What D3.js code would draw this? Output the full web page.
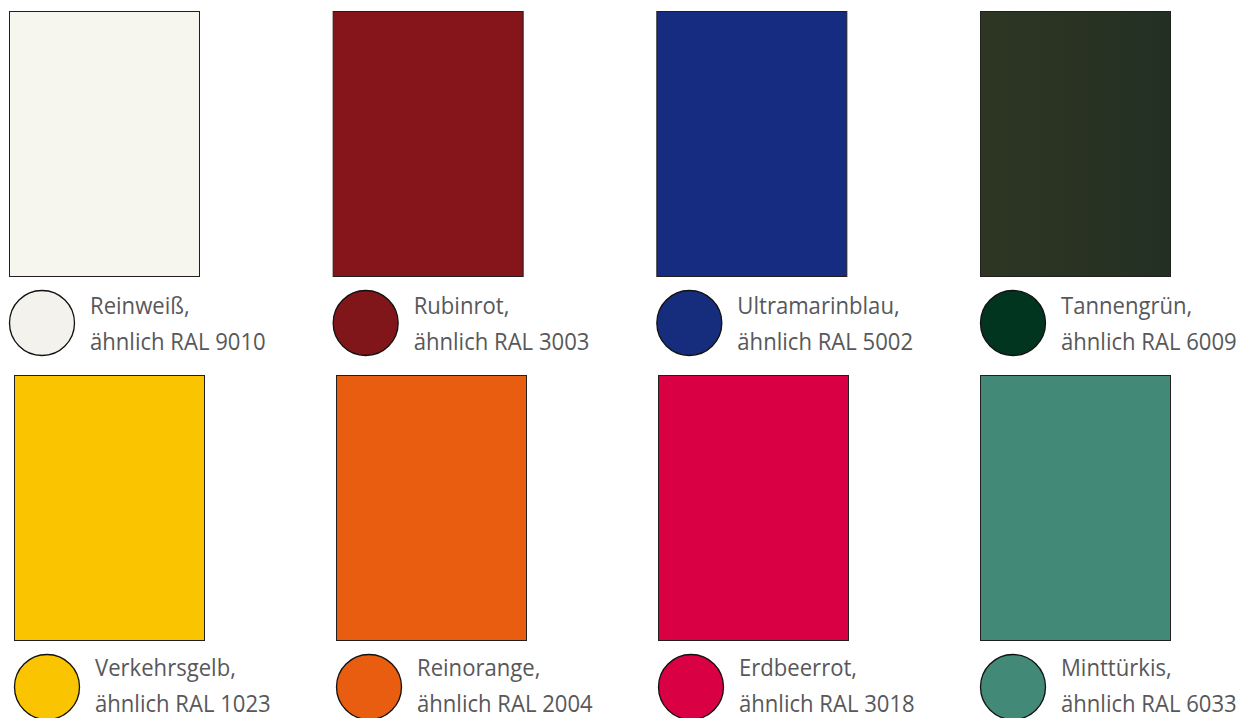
<!DOCTYPE html>
<html lang="de">
	<head>
		<meta charset="utf-8">
		<title>Farbtöne</title>
		<script src="https://d3js.org/d3.v7.min.js"></script>
		<style>
			body { margin: 0; background: #fff; }
			.label { font-family: "Open Sans", sans-serif; font-size: 23.5px; fill: #58585a; }
		</style>
	</head>
	<body>
		<script type="text/javascript">

			// Farbtöne (Name, RAL-Nummer, Farbe der Tafel, Farbe des Punkts)
			var names = ["Reinweiß", "Rubinrot", "Ultramarinblau", "Tannengrün",
			             "Verkehrsgelb", "Reinorange", "Erdbeerrot", "Minttürkis"];
			var ralCodes = ["9010", "3003", "5002", "6009", "1023", "2004", "3018", "6033"];
			var panelColors = ["#f6f5ee", "#86151b", "#162c80", "#2a3325",
			                   "#fbc400", "#e85d10", "#da0044", "#438978"];
			var dotColors = ["#f3f2ec", "#80161a", "#162d7e", "#02351f",
			                 "#fbc400", "#e85d10", "#da0044", "#438978"];

			var w = 1239;
			var h = 718;
			var cols = 4;

			var svg = d3.select("body").append("svg").attr("width", w).attr("height", h);

			// grid scales (one per row, the rows are slightly shifted)
			var xScales = [
				d3.scaleLinear().domain([0, cols - 1]).range([9, 980]),
				d3.scaleLinear().domain([0, cols - 1]).range([14, 980])
			];
			var yScale = d3.scaleLinear().domain([0, 1]).range([11, 375]);

			var panelW = 190;
			var panelH = 265;
			var r = 32.5;

			var items = names.map(function(n, i) {
				return { name: n, code: ralCodes[i], panel: panelColors[i], dot: dotColors[i],
				         col: i % cols, row: Math.floor(i / cols) };
			});

			// slight texture for the fir green panel
			var defs = svg.append("defs");
			var grad = defs.append("linearGradient").attr("id", "tanne").attr("x1", 0).attr("x2", 1).attr("y1", 0).attr("y2", 0);
			grad.append("stop").attr("offset", "0%").attr("stop-color", "#2e3624");
			grad.append("stop").attr("offset", "45%").attr("stop-color", "#2a3322");
			grad.append("stop").attr("offset", "100%").attr("stop-color", "#223024");

			var cell = svg.selectAll("g.cell").data(items).enter().append("g")
				.attr("class", "cell")
				.attr("transform", function(d) { return "translate(" + xScales[d.row](d.col) + "," + yScale(d.row) + ")"; });

			cell.append("rect")
				.attr("x", 0.5).attr("y", 0.5)
				.attr("width", panelW).attr("height", panelH)
				.attr("fill", function(d) { return d.name === "Tannengrün" ? "url(#tanne)" : d.panel; })
				.attr("stroke", "#231f20").attr("stroke-width", 1);

			cell.append("circle")
				.attr("cx", 33).attr("cy", panelH + 47)
				.attr("r", r)
				.attr("fill", function(d) { return d.dot; })
				.attr("stroke", "#111").attr("stroke-width", 1.3);

			var label = cell.append("text")
				.attr("class", "label")
				.attr("transform", function(d) { return "translate(81," + (panelH + 38 - d.row * 2) + ") scale(0.94,1)"; });
			label.append("tspan").attr("x", 0).attr("y", 0).text(function(d) { return d.name + ","; });
			label.append("tspan").attr("x", 0).attr("y", 36).text(function(d) { return "ähnlich RAL " + d.code; });

		</script>
	</body>
</html>
